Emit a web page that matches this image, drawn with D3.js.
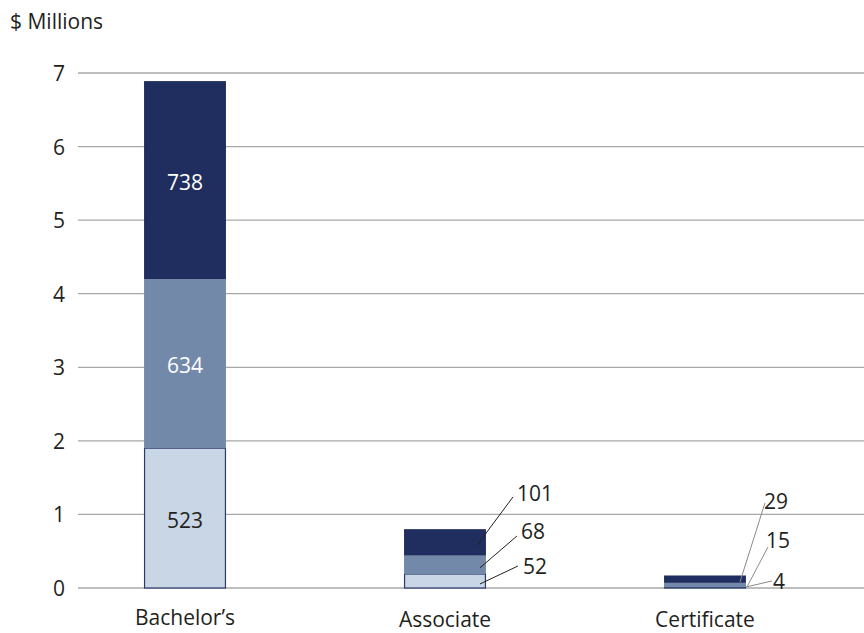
<!DOCTYPE html>
<html lang="en">
<head>
    <meta charset="UTF-8">
    <title>Stacked bars - $ Millions</title>
    <style>
        body {
            margin: 0;
            background: #ffffff;
            overflow: hidden;
        }
        svg {
            display: block;
            font-family: "Open Sans", "Noto Sans", sans-serif;
        }
        .grid line {
            stroke: #a8a8a8;
            stroke-width: 1.3;
        }
        .tick-label, .cat-label, .unit-label, .callout {
            fill: #231f20;
            font-size: 21px;
        }
    </style>
</head>
<body>
<svg width="864" height="633"></svg>

<script src="https://d3js.org/d3.v7.min.js"></script>
<script>
    // Data
    const categories = ["Bachelor\u2019s", "Associate", "Certificate"];
    const segmentNames = ["low", "mid", "high"];
    // segment heights in $ millions (bottom, middle, top)
    const lowValues = [1.90, 0.19, 0.01];
    const midValues = [2.30, 0.25, 0.06];
    const highValues = [2.69, 0.36, 0.10];
    // numbers printed on the segments
    const lowLabels = [523, 52, 4];
    const midLabels = [634, 68, 15];
    const highLabels = [738, 101, 29];
    const yTicks = [0, 1, 2, 3, 4, 5, 6, 7];

    const colors = { low: "#c9d6e5", mid: "#7389a9", high: "#1f2e5e" };
    const labelColors = { low: "#231f20", mid: "#ffffff", high: "#ffffff" };

    const svg = d3.select("svg");

    const x = d3.scaleBand()
        .domain(categories)
        .range([55, 835])
        .paddingInner(0.685)
        .paddingOuter(0.3425);

    const y = d3.scaleLinear()
        .domain([0, 7])
        .range([588, 73]);

    // gridlines
    svg.append("g")
        .attr("class", "grid")
        .selectAll("line")
        .data(yTicks)
        .join("line")
        .attr("x1", 78)
        .attr("x2", 864)
        .attr("y1", d => y(d))
        .attr("y2", d => y(d));

    // y axis labels (axis line hidden, just the text)
    const yAxis = svg.append("g")
        .attr("transform", "translate(70,0)")
        .call(d3.axisLeft(y).tickValues(yTicks).tickFormat(d3.format("d")).tickSize(0).tickPadding(5));
    yAxis.select(".domain").remove();
    yAxis.attr("font-size", null).attr("font-family", null);
    yAxis.selectAll("text")
        .attr("class", "tick-label")
        .attr("fill", null)
        .attr("dy", "0.36em");

    svg.append("text")
        .attr("class", "unit-label")
        .attr("x", 10)
        .attr("y", 29)
        .text("$ Millions");

    // stack the data
    const table = categories.map((c, i) => ({
        cat: c, low: lowValues[i], mid: midValues[i], high: highValues[i],
        lowLabel: lowLabels[i], midLabel: midLabels[i], highLabel: highLabels[i]
    }));
    const series = d3.stack().keys(segmentNames)(table);

    const bars = svg.append("g");
    series.forEach(s => {
        bars.selectAll(null)
            .data(s)
            .join("rect")
            .attr("x", d => x(d.data.cat) + (s.key === "low" ? 0.5 : 0))
            .attr("width", x.bandwidth() - (s.key === "low" ? 1 : 0))
            .attr("y", d => y(d[1]))
            .attr("height", d => y(d[0]) - y(d[1]))
            .attr("fill", colors[s.key])
            .attr("stroke", s.key === "low" ? "#2b3a6b" : "none")
            .attr("stroke-width", 1.2);
    });

    // labels inside the Bachelor's bar
    series.forEach(s => {
        const d = s[0];
        svg.append("text")
            .attr("class", "callout")
            .attr("x", x(d.data.cat) + x.bandwidth() / 2)
            .attr("y", (y(d[0]) + y(d[1])) / 2 + 2)
            .attr("dy", "0.36em")
            .attr("text-anchor", "middle")
            .style("fill", labelColors[s.key])
            .text(d.data[s.key + "Label"]);
    });

    // callouts with leader lines for the small bars
    // label: [x offset from bar right, y, x offset of line end]
    const callouts = {
        "Associate": { low: [37, 566, -6], mid: [35, 531, -6], high: [31, 493, -9] },
        "Certificate": { low: [27, 581, 0], mid: [20, 540, 1], high: [18, 501, -6] }
    };
    // line start: [x offset from bar right, y]
    const calloutLines = {
        "Associate": { low: [32, 566], mid: [31, 536], high: [27, 497] },
        "Certificate": { low: [26, 581], mid: [22, 547], high: [19, 503] }
    };
    ["Associate", "Certificate"].forEach(cat => {
        const i = categories.indexOf(cat);
        const right = x(cat) + x.bandwidth();
        series.forEach(s => {
            const d = s[i];
            const c = callouts[cat][s.key];
            const l = calloutLines[cat][s.key];
            const midY = (y(d[0]) + y(d[1])) / 2;
            const targetY = cat === "Certificate" ? Math.min(midY + 3, 587) : midY + 3;
            svg.append("line")
                .attr("x1", right + l[0])
                .attr("y1", l[1])
                .attr("x2", right + c[2])
                .attr("y2", targetY)
                .attr("stroke", cat === "Certificate" ? "#8a8a8a" : "#231f20")
                .attr("stroke-width", 1);
            svg.append("text")
                .attr("class", "callout")
                .attr("x", right + c[0])
                .attr("y", c[1])
                .attr("dy", "0.36em")
                .text(d.data[s.key + "Label"]);
        });
    });

    // category labels
    svg.append("g")
        .selectAll("text")
        .data(categories)
        .join("text")
        .attr("class", "cat-label")
        .attr("x", d => x(d) + x.bandwidth() / 2)
        .attr("y", (d, i) => i === 0 ? 625 : 627)
        .attr("text-anchor", "middle")
        .text(d => d);
</script>
</body>
</html>
